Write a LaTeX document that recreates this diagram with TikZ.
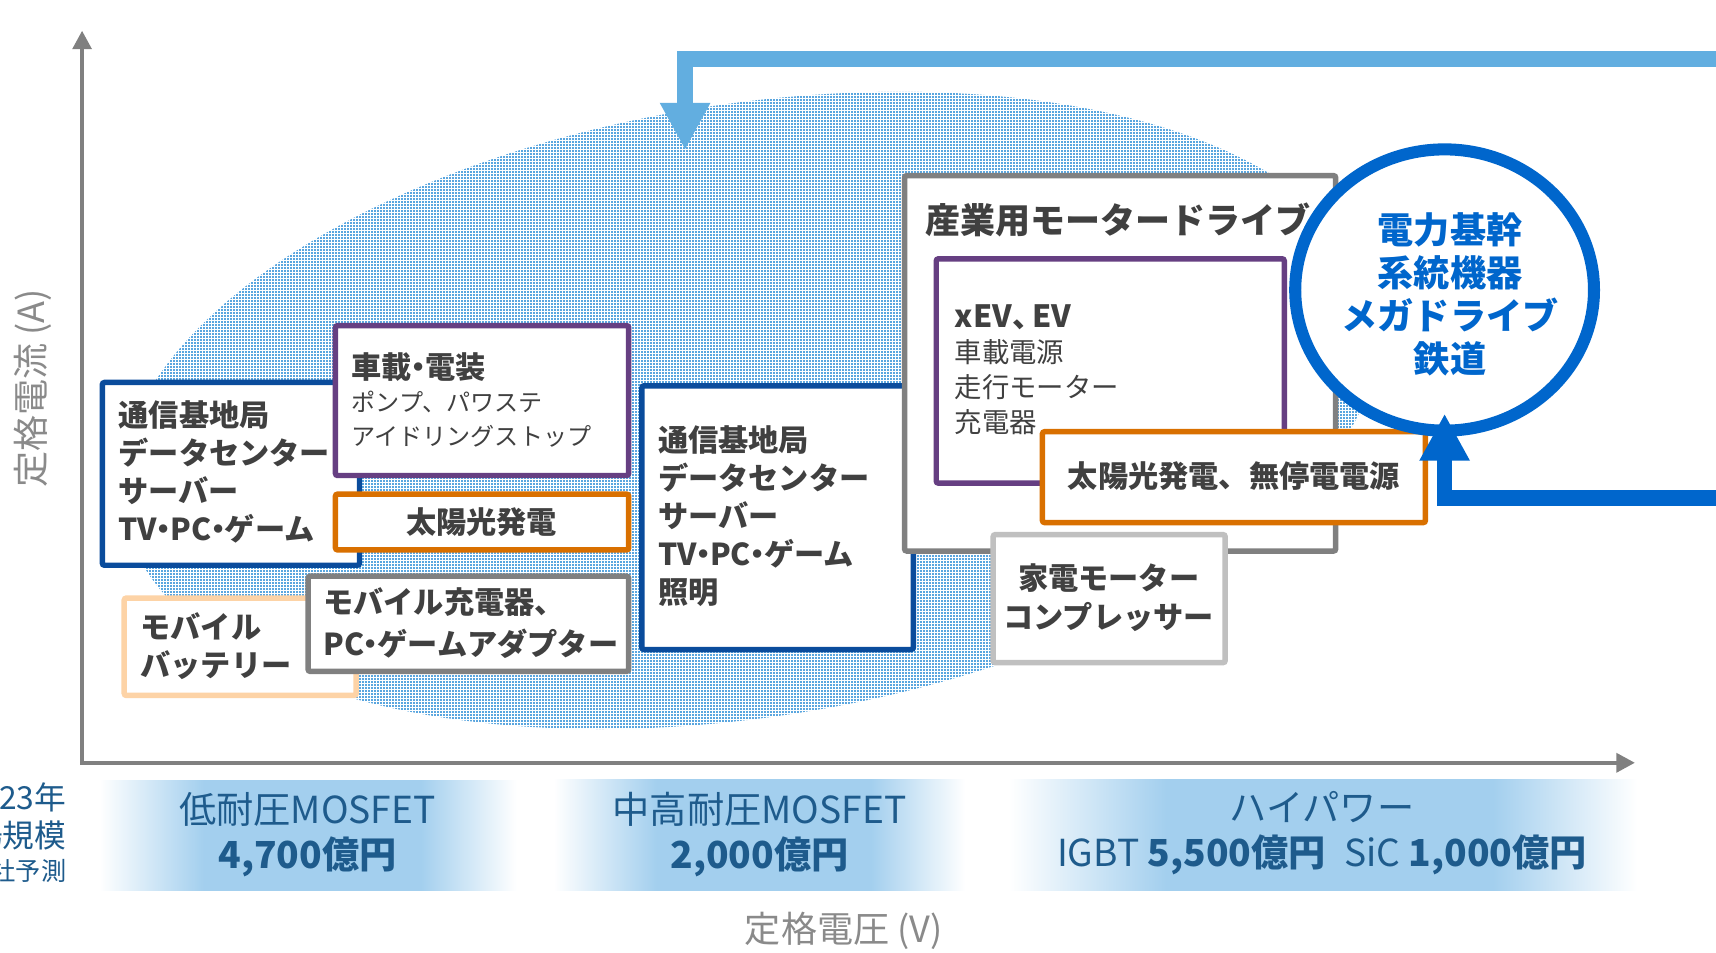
\documentclass[tikz,border=0pt]{standalone}
\usepackage{fontspec}
\setmainfont{Noto Sans CJK JP}
\usetikzlibrary{arrows.meta,shapes.geometric,patterns.meta}

\definecolor{cblue}{HTML}{0A4C9C}
\definecolor{cpurple}{HTML}{663F82}
\definecolor{corange}{HTML}{D97000}
\definecolor{cpeach}{HTML}{FDD3A6}
\definecolor{cgray}{HTML}{808080}
\definecolor{clgray}{HTML}{C0C0C0}
\definecolor{cring}{HTML}{0066CC}
\definecolor{carrowlb}{HTML}{62AEE0}
\definecolor{cdot}{HTML}{5AA6DF}
\definecolor{cband}{HTML}{A3CFEE}
\definecolor{cbandtext}{HTML}{1E5B8C}
\definecolor{caxislabel}{HTML}{8A8A8A}
\definecolor{ctext}{HTML}{404040}

\newcommand{\nkdot}{\kern-0.28em・\kern-0.28em}

\pgfdeclarepattern{
  name=finedots,
  type=uncolored,
  bottom left={\pgfpointorigin},
  top right={\pgfpoint{1.37pt}{1.37pt}},
  tile size={\pgfpoint{1.37pt}{1.37pt}},
  code={\pgfpathrectangle{\pgfpointorigin}{\pgfpoint{0.9pt}{0.9pt}}\pgfusepath{fill}}
}

\pgfdeclarehorizontalshading{bandshade}{100bp}{color(0bp)=(white); color(25bp)=(white); color(37.5bp)=(cband); color(63.5bp)=(cband); color(75bp)=(white); color(100bp)=(white)}

\begin{document}
\begin{tikzpicture}[x=0.5pt,y=-0.5pt,
  boxst/.style={rectangle, fill=white, line width=2.5pt, rounded corners=1pt, inner sep=0pt, outer sep=0pt},
  bt/.style={font=\fontsize{13.8}{17.3}\selectfont\bfseries, text=ctext, inner sep=0pt, align=left},
  rt/.style={font=\fontsize{11}{15.5}\selectfont, text=ctext, inner sep=0pt, align=left},
  bandst/.style={rectangle, shade, shading=bandshade, inner sep=0pt, minimum height=50.5pt},
  bandt/.style={font=\fontsize{17}{20.5}\selectfont, text=cbandtext, inner sep=0pt, align=center},
  axlab/.style={font=\fontsize{16.5}{20}\selectfont, text=caxislabel, inner sep=0pt},
  axisline/.style={draw=cgray, line width=2pt, {Triangle[width=8.5pt,length=8.5pt]}-{Triangle[width=8.5pt,length=8.5pt]}},
  bigarrow/.style={line width=7pt, -{Triangle[width=21.5pt,length=21.5pt]}}
]
\useasboundingbox (0,0) rectangle (1568,870);
\fill[white] (0,0) rectangle (1568,870);

% dotted market region
\begin{scope}
\clip[rotate around={9:(685,375)}] (685,375) ellipse [x radius=290pt, y radius=140pt];
\fill[pattern=finedots, pattern color=cdot] (60,60) rectangle (1300,720);
\end{scope}

% axes
\coordinate (org) at (75,697);
\coordinate (ytip) at (75,28);
\coordinate (xtip) at (1494,697);
\draw[axisline] (ytip) -- (org) -- (xtip);
\node[axlab] (xl) at (771,851) {定格電圧 (V)};
\node[axlab, rotate=90] (yl) at (30,355) {定格電流 (A)};

% boxes
\node[boxst, draw=cblue, minimum width=117.5pt, minimum height=83.5pt] (boxA) at (211,433) {};
\node[boxst, draw=cpurple, minimum width=134pt, minimum height=68.5pt] (boxB) at (440.5,366) {};
\node[boxst, draw=corange, minimum width=134pt, minimum height=25.5pt] (boxC) at (440.5,477) {};
\node[boxst, draw=cpeach, minimum width=106pt, minimum height=44.5pt] (boxD) at (219.5,591) {};
\node[boxst, draw=cgray, minimum width=146.5pt, minimum height=43.5pt] (boxE) at (428,570) {};
\node[boxst, draw=cblue, minimum width=124pt, minimum height=120.5pt] (boxF) at (710.5,473) {};
\node[boxst, draw=cgray, minimum width=197pt, minimum height=171.5pt] (boxG) at (1023.5,332) {};
\node[boxst, draw=cpurple, minimum width=159pt, minimum height=102.5pt] (boxH) at (1014.5,339) {};
\node[boxst, draw=corange, minimum width=175pt, minimum height=41.5pt] (boxI) at (1127.5,436) {};
\node[boxst, draw=clgray, minimum width=106pt, minimum height=58.5pt] (boxJ) at (1013.5,547) {};
\node[ellipse, draw=cring, fill=white, line width=5.5pt, minimum width=136.5pt, minimum height=128.5pt, inner sep=0pt] (ring) at (1320,265) {};

% texts
\node[bt, anchor=west] (tA) at (108,431) {通信基地局\\データセンター\\サーバー\\TV\nkdot PC\nkdot ゲーム};
\node[bt, anchor=west] (tB1) at (321,335) {車載\nkdot 電装};
\node[rt, anchor=west] (tB2) at (321,383) {ポンプ、パワステ\\アイドリングストップ};
\node[bt] (tC) at (440,477) {太陽光発電};
\node[bt, anchor=west, font=\fontsize{13.8}{17.5}\selectfont\bfseries] (tD) at (128,590.5) {モバイル\\バッテリー};
\node[bt, anchor=west, font=\fontsize{13.8}{19}\selectfont\bfseries] (tE) at (295,569.5) {モバイル充電器、\\PC\nkdot ゲームアダプター};
\node[bt, anchor=west, font=\fontsize{13.8}{17.4}\selectfont\bfseries] (tF) at (601,471.5) {通信基地局\\データセンター\\サーバー\\TV\nkdot PC\nkdot ゲーム\\照明};
\node[bt, anchor=west, font=\fontsize{16}{19}\selectfont\bfseries] (tG) at (845.5,201) {産業用モータードライブ};
\node[bt, anchor=west, font=\fontsize{14}{17}\selectfont\bfseries] (tH1) at (872,290) {xEV、\kern-0.35em EV};
\node[rt, anchor=west, font=\fontsize{12.5}{16}\selectfont] (tH2) at (872,354) {車載電源\\走行モーター\\充電器};
\node[bt] (tI) at (1127.5,435) {太陽光発電、無停電電源};
\node[bt, align=center, font=\fontsize{13.8}{17.75}\selectfont\bfseries] (tJ) at (1013,546) {家電モーター\\コンプレッサー};
\node[font=\fontsize{16.5}{19.7}\selectfont\bfseries, text=cring, align=center, inner sep=0pt] (tK) at (1325,269) {電力基幹\\系統機器\\メガドライブ\\鉄道};

% arrows
\coordinate (lbA) at (1600,54);
\coordinate (lbB) at (626,54);
\coordinate (lbTip) at (626,137);
\draw[bigarrow, draw=carrowlb] (lbA) -- (lbB) -- (lbTip);
\coordinate (dbA) at (1600,455);
\coordinate (dbB) at (1320,455);
\coordinate (dbTip) at (1320,378);
\draw[bigarrow, draw=cring] (dbA) -- (dbB) -- (dbTip);

% bands
\node[bandst, minimum width=190.5pt] (band1) at (281.5,763.5) {};
\node[bandst, minimum width=188pt] (band2) at (694,763) {};
\node[bandst, minimum width=287pt] (band3) at (1209,763) {};
\node[bandt] (b1t) at (281,762.5) {低耐圧MOSFET\\\textbf{4,700億円}};
\node[bandt] (b2t) at (694,762.5) {中高耐圧MOSFET\\\textbf{2,000億円}};
\node[bandt] (b3t) at (1208,761) {ハイパワー\\IGBT \textbf{5,500億円}\hspace{0.5em}SiC \textbf{1,000億円}};
\node[font=\fontsize{14.5}{17.5}\selectfont, text=cbandtext, align=right, anchor=east, inner sep=0pt] (mkt) at (61,761) {2023年\\市場規模\\[-2.5pt]{\fontsize{11.5}{14}\selectfont 当社予測}};
\end{tikzpicture}
\end{document}
